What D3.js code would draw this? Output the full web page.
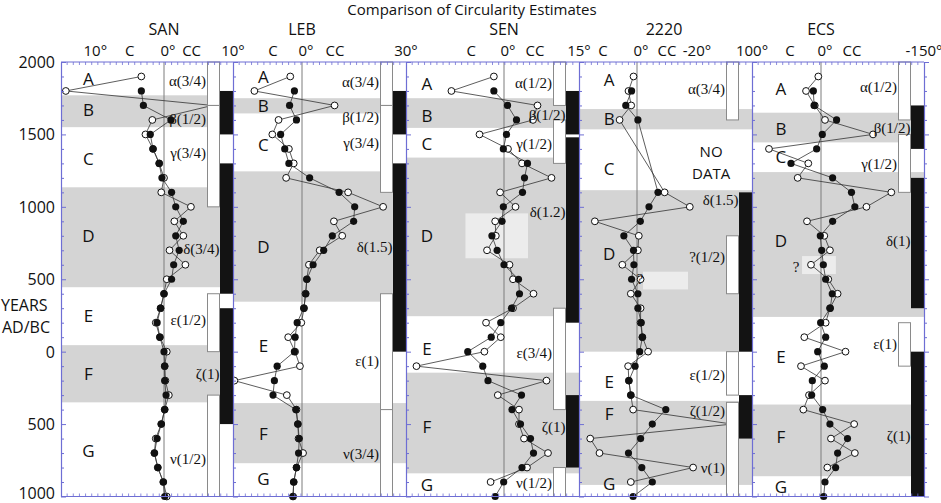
<!DOCTYPE html>
<html>
<head>
<meta charset="utf-8">
<script src="https://cdnjs.cloudflare.com/ajax/libs/d3/7.8.5/d3.min.js"></script>
<style>
  body { margin: 0; background: #fff; }
  svg { display: block; }
  text { font-family: "Open Sans", sans-serif; fill: #111; }
</style>
</head>
<body>
<svg id="chart" width="941" height="503"></svg>
<script>
// ---- data: [year, degrees] (positive = clockwise, to the left) ----
const sanOpen = [[1900,3.3],[1800,14.3],[1700,-7],[1600,1.7],[1500,2.7],[1400,1.6],[1300,0.7],[1200,0],[1100,0.4],[1000,-3.9],[900,-1.5],[800,-2.8],[700,-0.8],[600,-3.1],[500,-0.4],[400,0],[300,0.5],[200,1.2],[100,0.6],[0,-0.4],[-100,-0.1],[-200,-0.2],[-300,-0.7],[-400,-0.1],[-500,0.4],[-600,1.2],[-700,1.4],[-800,0.9],[-900,0.1],[-1000,-0.4]];
const sanFilled = [[1800,3.3],[1700,3.0],[1600,-1.0],[1500,2.0],[1400,1.6],[1300,0.7],[1200,0.3],[1100,-1.1],[1000,-1.7],[900,-2.8],[800,-1.7],[700,-2.2],[600,-1.4],[500,-1.1],[400,0],[300,0.5],[200,1.0],[100,0.6],[0,0],[-100,-0.1],[-200,-0.1],[-300,-0.3],[-400,-0.1],[-500,0.4],[-600,1.0],[-700,1.4],[-800,0.9],[-900,0.1],[-1000,-0.1]];

const lebOpen = [[1900,1.7],[1800,6.9],[1700,-9.4],[1600,3.4],[1500,4.3],[1400,1.9],[1300,1.2],[1200,2.3],[1100,-13.3],[1000,-23.4],[900,-9.2],[800,-11.6],[700,-5.1],[600,-2.0],[500,-1.4],[400,-1.0],[300,-0.6],[200,0.1],[100,2.0],[0,1.0],[-100,0.3],[-200,9.8],[-300,2.2],[-400,0.8],[-500,0.6],[-600,0.5],[-700,-0.3],[-800,0.8],[-900,1.2],[-1000,1.3]];
const lebFilled = [[1800,1.1],[1700,1.8],[1600,0.8],[1500,3.1],[1400,2.5],[1300,1.9],[1200,-2.2],[1100,-10.7],[1000,-15.2],[900,-14.9],[800,-8.75],[700,-6.25],[600,-3.2],[500,-1.4],[400,-1.1],[300,-0.5],[200,0.7],[100,1.0],[0,1.1],[-100,3.6],[-200,4.0],[-300,4.2],[-400,0.9],[-500,0.6],[-600,0.4],[-700,0.5],[-800,0.8],[-900,1.2],[-1000,1.3]];

const senOpen = [[1900,3.1],[1800,16.1],[1700,-6.7],[1600,-5.8],[1500,7.5],[1400,-0.8],[1300,-3.6],[1200,-9.5],[1100,1.2],[1000,-2.3],[900,2.7],[800,2.5],[700,5.2],[600,-1.1],[500,-1.8],[400,-5.9],[300,-1.8],[200,5.5],[100,1.0],[0,6.0],[-100,26.8],[-200,-8.5],[-300,1.9],[-400,-3.0],[-500,-3.0],[-600,-4.0],[-700,-8.8],[-800,-4.6],[-900,4.1]];
const senFilled = [[1800,3.1],[1700,-0.7],[1600,-2.5],[1500,-0.5],[1400,0.2],[1300,-4.7],[1200,-4.1],[1100,-3.7],[1000,0.2],[900,0.6],[800,3.7],[700,2.1],[600,0],[500,-2.9],[400,-3.1],[300,-1.5],[200,1.0],[100,3.9],[0,11.1],[-100,6.5],[-200,4.9],[-300,-3.5],[-400,-1.6],[-500,-3.3],[-600,-5.3],[-700,-5.9],[-800,-3.6],[-900,0.1],[-1000,2.7]];

const s2220Open = [[1900,0.9],[1800,2.2],[1700,1.5],[1600,4.5],[1100,-9.2],[1000,-17.6],[900,10.9],[800,-0.6],[700,-0.3],[600,3.8],[500,-1.2],[400,1.6],[300,-1.2],[200,-1.2],[100,-1.8],[0,-3.7],[-100,2.3],[-200,2.1],[-300,1.6],[-400,1.0],[-500,-31.7],[-600,12.1],[-700,9.7],[-800,-18.7],[-900,1.6]];
const s2220Filled = [[1800,1.4],[1700,2.9],[1600,-0.3],[1100,-7.0],[1000,-4.0],[900,-1.1],[800,3.4],[700,0.9],[600,0.8],[500,1.4],[400,-0.3],[300,-0.3],[200,-1.4],[100,-1.8],[0,-0.9],[-100,0.5],[-200,2.1],[-300,1.6],[-400,-9.6],[-500,-5.1],[-600,-1.2],[-700,2.2],[-800,-1.6],[-900,-5.1],[-1000,1.0]];

const ecsOpen = [[1900,3.9],[1800,21.7],[1700,9],[1600,-5.8],[1500,-75.8],[1400,75.4],[1300,18.4],[1200,33.8],[1100,-102.4],[1000,-66.2],[900,20.3],[800,-4.8],[700,-13],[600,14.5],[500,-10.6],[400,-24.2],[300,-13],[200,-6.8],[100,24.2],[0,-35.7],[-100,29],[-200,-5.8],[-300,17.4],[-400,25.6],[-500,-48.3],[-600,-14.5],[-700,-49.3],[-800,-9.2]];
const ecsFilled = [[1800,11.1],[1700,10],[1600,-22.7],[1500,-1.9],[1400,6.3],[1300,43.5],[1200,-16.9],[1100,-44.4],[1000,-49.3],[900,-16.9],[800,1.0],[700,-1.0],[600,-3.4],[500,-6.8],[400,-16.4],[300,-13.5],[200,0.5],[100,-6.8],[0,4.8],[-100,-4.8],[-200,12.6],[-300,13.5],[-400,-2.4],[-500,-13],[-600,-38.6],[-700,-24.2],[-800,-21.3],[-900,-5.8],[-1000,-3.9]];

// shaded zones B, D, F  [from year, to year]
const sanBands = [[1770,1550],[1135,445],[45,-350]];
const lebBands = [[1750,1645],[1245,345],[-355,-770]];
const senBands = [[1750,1545],[1340,245],[-145,-840]];
const s2220Bands = [[1675,1535],[1115,0],[-340,-920]];
const ecsBands = [[1650,1445],[1240,240],[-365,-860]];

// year of zone letters A..G
const zoneNames = ['A','B','C','D','E','F','G'];
const sanLetters = [1883,1675,1337,805,253,-153,-680];
const lebLetters = [1899,1703,1427,725,46,-562,-874];
const senLetters = [1853,1634,1434,805,23,-518,-920];
const s2220Letters = [1876,1613,1267,680,-207,-424,-907];
const ecsLetters = [1818,1542,1346,766,-35,-587,-928];

const sanGreek = [['α(3/4)',1870],['β(1/2)',1605],['γ(3/4)',1370],['δ(3/4)',710],['ε(1/2)',218],['ζ(1)',-155],['ν(1/2)',-740]];
const lebGreek = [['α(3/4)',1864],['β(1/2)',1620],['γ(3/4)',1442],['δ(1.5)',725],['ε(1)',-65],['ν(3/4)',-708]];
const senGreek = [['α(1/2)',1853],['β(1/2)',1634],['γ(1/2)',1434],['δ(1.2)',964],['ε(3/4)',-12],['ζ(1)',-520],['ν(1/2)',-905]];
const s2220Greek = [['α(3/4)',1813],['δ(1.5)',1047],['?(1/2)',655],['ε(1/2)',-161],['ζ(1/2)',-410],['ν(1)',-804]];
const ecsGreek = [['α(1/2)',1825],['β(1/2)',1543],['γ(1/2)',1296],['δ(1)',766],['ε(1)',53],['ζ(1)',-580]];

// open (white) and solid (black) interval columns
const sanWhite = [[2000,1700],[1700,1000],[400,0],[-300,-1000]];
const sanBlack = [[1800,1500],[1300,400],[300,-500]];
const lebWhite = [[2000,1700],[1700,1100],[400,-400],[-400,-1000]];
const lebBlack = [[1800,1500],[1300,0]];
const senWhite = [[2000,1700],[1600,1300],[300,-400],[-800,-1000]];
const senBlack = [[1800,1500],[1480,200],[-300,-800]];
const s2220White = [[2000,1600],[800,400],[0,-300],[-350,-1000]];
const s2220Black = [[1100,0],[-300,-600]];
const ecsWhite = [[2000,1600],[1500,1100],[200,-100]];
const ecsBlack = [[1700,1400],[1200,300],[0,-1000]];

// uncertain intervals: [deg from, deg to, year from, year to]
const senHighlight = [[11.8,-4.8,955,645]];
const s2220Highlight = [[-2,-17,552,430]];
const ecsHighlight = [[27.5,-21.7,660,536]];

// top labels [text, degrees]
const sanTicks = [['10°',10],['C',5],['0°',0],['CC',-4],['10°',-10]];
const lebTicks = [['C',4.2],['0°',0],['CC',-9.5],['30°',-30]];
const senTicks = [['C',10],['0°',0],['CC',-6.2],['15°',-15]];
const s2220Ticks = [['C',8.8],['0°',0],['CC',-10],['-20°',-20]];
const ecsTicks = [['100°',100],['C',45],['0°',0],['CC',-45],['-150°',-150]];

const yearLabels = [2000,1500,1000,500,0,-500,-1000];
const s2220Notes = [['NO',-24.7,1385,'sans'],['DATA',-24.7,1235,'sans'],['?',-1,500,'serif']];
const ecsNotes = [['?',36,585,'serif']];

// ---- layout ----
const boundaries = [61, 233, 406, 579, 752, 924];
const panels = [
  {name:'SAN', dom:[15,0,-10], rng:[61,164,233], nameAt:0, letterAt:11,
   open:sanOpen, filled:sanFilled, bands:sanBands, letters:sanLetters, greek:sanGreek,
   white:sanWhite, black:sanBlack, ticks:sanTicks, hi:[], notes:[]},
  {name:'LEB', dom:[10,0,-30], rng:[233,302,406], nameAt:0, letterAt:5.6,
   open:lebOpen, filled:lebFilled, bands:lebBands, letters:lebLetters, greek:lebGreek,
   white:lebWhite, black:lebBlack, ticks:lebTicks, hi:[], notes:[]},
  {name:'SEN', dom:[30,0,-15], rng:[406,504,579], nameAt:0, letterAt:23.6,
   open:senOpen, filled:senFilled, bands:senBands, letters:senLetters, greek:senGreek,
   white:senWhite, black:senBlack, ticks:senTicks, hi:senHighlight, notes:[]},
  {name:'2220', dom:[15,0,-20], rng:[579,637,697], nameAt:-9, letterAt:7.2,
   open:s2220Open, filled:s2220Filled, bands:s2220Bands, letters:s2220Letters, greek:s2220Greek,
   white:s2220White, black:s2220Black, ticks:s2220Ticks, hi:s2220Highlight, notes:s2220Notes},
  {name:'ECS', dom:[100,0,-150], rng:[752,821,924], nameAt:0, letterAt:58,
   open:ecsOpen, filled:ecsFilled, bands:ecsBands, letters:ecsLetters, greek:ecsGreek,
   white:ecsWhite, black:ecsBlack, ticks:ecsTicks, hi:ecsHighlight, notes:ecsNotes}
];

const serif = '"Liberation Serif", "DejaVu Serif", serif';
const frameColor = '#6e6ed4';
const svg = d3.select('#chart');
const y = d3.scaleLinear().domain([2000, -1000]).range([62, 496.5]);
const defs = svg.append('defs');

svg.append('text')
  .attr('x', 472).attr('y', 15)
  .attr('text-anchor', 'middle').attr('font-size', 15)
  .text('Comparison of Circularity Estimates');

panels.forEach(function(p, i) {
  const left = boundaries[i], right = boundaries[i + 1];
  const wL = right - 26, wR = right - 13;
  const x = d3.scaleLinear().domain(p.dom).range(p.rng);
  const g = svg.append('g').attr('class', 'panel');

  defs.append('clipPath').attr('id', 'clip' + i)
    .append('rect').attr('x', left).attr('y', 55).attr('width', right - left).attr('height', 450);

  // shaded zones
  g.selectAll('rect.band').data(p.bands).join('rect').attr('class', 'band')
    .attr('x', left).attr('width', right - left)
    .attr('y', d => y(d[0])).attr('height', d => y(d[1]) - y(d[0]))
    .attr('fill', '#d4d4d4');

  g.selectAll('rect.hi').data(p.hi).join('rect').attr('class', 'hi')
    .attr('x', d => x(d[0])).attr('width', d => x(d[1]) - x(d[0]))
    .attr('y', d => y(d[2])).attr('height', d => y(d[3]) - y(d[2]))
    .attr('fill', '#ececec');

  // zero line
  g.append('line')
    .attr('x1', x(0)).attr('x2', x(0)).attr('y1', y(2000)).attr('y2', y(-1000))
    .attr('stroke', '#7c7c7c').attr('stroke-width', 1);

  // series
  const s = g.append('g').attr('clip-path', 'url(#clip' + i + ')');
  const line = d3.line().x(d => x(d[1])).y(d => y(d[0]));
  [p.open, p.filled].forEach(function(series) {
    s.append('path').datum(series).attr('d', line)
      .attr('fill', 'none').attr('stroke', '#333').attr('stroke-width', 0.8);
  });
  s.selectAll('circle.open').data(p.open).join('circle').attr('class', 'open')
    .attr('cx', d => x(d[1])).attr('cy', d => y(d[0])).attr('r', 3.4)
    .attr('fill', '#fff').attr('stroke', '#111').attr('stroke-width', 1);
  s.selectAll('circle.filled').data(p.filled).join('circle').attr('class', 'filled')
    .attr('cx', d => x(d[1])).attr('cy', d => y(d[0])).attr('r', 3.6)
    .attr('fill', '#111');

  // interval columns
  g.selectAll('rect.white').data(p.white).join('rect').attr('class', 'white')
    .attr('x', wL + 0.5).attr('width', wR - wL - 1)
    .attr('y', d => y(d[0])).attr('height', d => y(d[1]) - y(d[0]))
    .attr('fill', '#fff').attr('stroke', '#8a8a8a').attr('stroke-width', 1);
  g.selectAll('rect.black').data(p.black).join('rect').attr('class', 'black')
    .attr('x', wR).attr('width', right - wR)
    .attr('y', d => y(d[0])).attr('height', d => y(d[1]) - y(d[0]))
    .attr('fill', '#131313');

  // zone letters
  g.selectAll('text.zone').data(p.letters).join('text').attr('class', 'zone')
    .attr('x', x(p.letterAt)).attr('y', d => y(d))
    .attr('text-anchor', 'middle').attr('dominant-baseline', 'central')
    .attr('font-size', 17).text((d, k) => zoneNames[k]);

  // greek labels: right-aligned on the open column, or across it if that interval is empty
  const covered = yr => p.white.some(b => b[0] >= yr && yr >= b[1]);
  g.selectAll('text.greek').data(p.greek).join('text').attr('class', 'greek')
    .attr('x', d => covered(d[1]) ? wL - 1 : wR - 0.5).attr('y', d => y(d[1]))
    .attr('text-anchor', 'end').attr('dominant-baseline', 'central')
    .style('font-family', serif).attr('font-size', 15).text(d => d[0]);

  g.selectAll('text.note').data(p.notes).join('text').attr('class', 'note')
    .attr('x', d => x(d[1])).attr('y', d => y(d[2]))
    .attr('text-anchor', 'middle').attr('dominant-baseline', 'central')
    .style('font-family', d => d[3] === 'serif' ? serif : null)
    .attr('font-size', 15).text(d => d[0]);

  // header
  g.append('text').attr('x', x(p.nameAt)).attr('y', 35)
    .attr('text-anchor', 'middle').attr('font-size', 16).text(p.name);
  g.selectAll('text.tick').data(p.ticks).join('text').attr('class', 'tick')
    .attr('x', d => x(d[1])).attr('dx', d => d[1] === 0 ? 4 : 0).attr('y', 56)
    .attr('text-anchor', 'middle').attr('font-size', 15).text(d => d[0]);

  // minor ticks along top and bottom
  const f = d3.scaleLinear().domain([0, 28]).range([left, right]);
  const mt = d3.range(1, 28);
  g.selectAll('line.tt').data(mt).join('line').attr('class', 'tt')
    .attr('x1', d => f(d)).attr('x2', d => f(d)).attr('y1', y(2000)).attr('y2', y(2000) + 3)
    .attr('stroke', frameColor).attr('stroke-width', 0.8);
  g.selectAll('line.bt').data(mt).join('line').attr('class', 'bt')
    .attr('x1', d => f(d)).attr('x2', d => f(d)).attr('y1', y(-1000)).attr('y2', y(-1000) - 3)
    .attr('stroke', frameColor).attr('stroke-width', 0.8);
});

// frame: vertical axes at every panel boundary, ticks each century
const yearTicks = d3.range(-1000, 2001, 100);
boundaries.forEach(function(bx) {
  const ax = svg.append('g').attr('transform', 'translate(' + bx + ',0)')
    .call(d3.axisRight(y).tickValues(yearTicks).tickSize(3).tickSizeOuter(0).tickFormat(''));
  ax.select('.domain').attr('stroke', frameColor).attr('stroke-width', 1.2);
  ax.selectAll('.tick line').attr('stroke', frameColor)
    .attr('x2', d => d % 500 === 0 ? 5 : 3);
});
svg.append('line').attr('x1', boundaries[0]).attr('x2', boundaries[5])
  .attr('y1', y(2000)).attr('y2', y(2000)).attr('stroke', frameColor).attr('stroke-width', 1.2);
svg.append('line').attr('x1', boundaries[0]).attr('x2', boundaries[5])
  .attr('y1', y(-1000)).attr('y2', y(-1000)).attr('stroke', frameColor).attr('stroke-width', 1.2);

// year labels
svg.selectAll('text.year').data(yearLabels).join('text').attr('class', 'year')
  .attr('x', 55).attr('y', d => Math.min(y(d), 493))
  .attr('text-anchor', 'end').attr('dominant-baseline', 'central')
  .attr('font-size', 16).text(d => Math.abs(d));
svg.append('text').attr('x', 1).attr('y', 305).attr('dominant-baseline', 'central')
  .attr('font-size', 16).text('YEARS');
svg.append('text').attr('x', 2).attr('y', 327).attr('dominant-baseline', 'central')
  .attr('font-size', 16).text('AD/BC');
</script>
</body>
</html>
